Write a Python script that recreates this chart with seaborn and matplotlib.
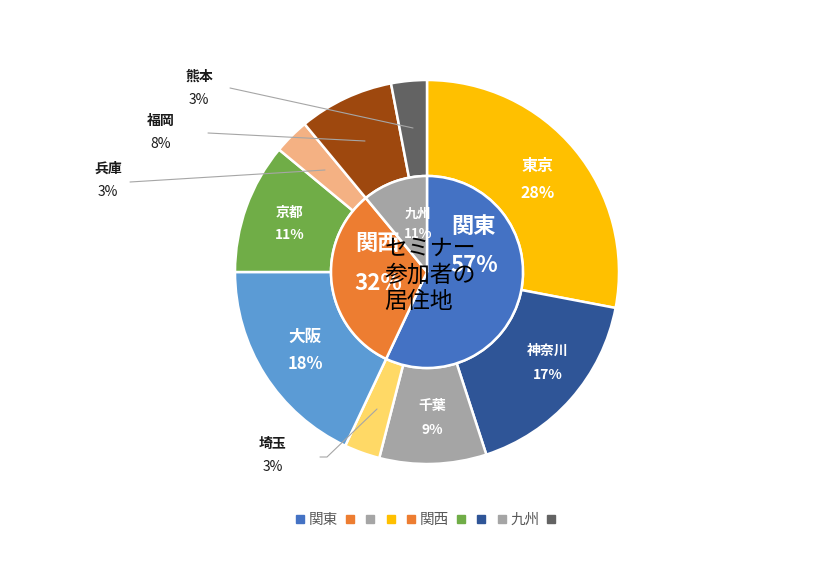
import matplotlib
matplotlib.use("Agg")
import matplotlib.pyplot as plt
from matplotlib.lines import Line2D
import seaborn as sns

# ---------------- data ----------------
inner_labels = ["関東", "関西", "九州"]
inner_values = [57, 32, 11]
inner_colors = ["#4472C4", "#ED7D31", "#A5A5A5"]

outer_labels = ["東京", "神奈川", "千葉", "埼玉", "大阪", "京都", "兵庫", "福岡", "熊本"]
outer_values = [28, 17, 9, 3, 18, 11, 3, 8, 3]
outer_colors = ["#FFC000", "#2F5597", "#A5A5A5", "#FFD966", "#5B9BD5",
                "#70AD47", "#F4B183", "#9E480E", "#636363"]

center_title = "セミナー\n参加者の\n居住地"

legend_labels = ["関東", "", "", "", "関西", "", "", "九州", ""]
legend_colors = ["#4472C4", "#ED7D31", "#A5A5A5", "#FFC000", "#ED7D31",
                 "#70AD47", "#2F5597", "#A5A5A5", "#636363"]

# ---------------- style ----------------
sns.set_theme(style="white")
plt.rcParams["font.family"] = ["Noto Sans CJK JP", "DejaVu Sans"]

W, H = 824, 586
fig = plt.figure(figsize=(W / 100, H / 100), dpi=100)
ax = fig.add_axes([0, 0, 1, 1])

cx, cy = 427, H - 272
R_out, R_in = 192, 96

ax.pie(outer_values, radius=R_out, center=(cx, cy), startangle=90,
       counterclock=False, colors=outer_colors,
       wedgeprops=dict(width=R_out - R_in, edgecolor="white", linewidth=1.8))
ax.pie(inner_values, radius=R_in, center=(cx, cy), startangle=90,
       counterclock=False, colors=inner_colors,
       wedgeprops=dict(edgecolor="white", linewidth=1.8))

ax.set_xlim(0, W)
ax.set_ylim(0, H)
ax.set_aspect("equal")
ax.axis("off")


def P(x, y):
    return x, H - y


def fmt(v):
    return f"{v}%"


# inside labels (name, pct) : (x, y_name, y_pct, size)
inside = {
    "東京": (538, 166, 193, 11.5),
    "神奈川": (548, 351, 375, 10),
    "千葉": (432, 406, 430, 10),
    "大阪": (305, 337, 364, 12),
    "京都": (290, 213, 235, 10),
}
for lab, v in zip(outer_labels, outer_values):
    if lab in inside:
        x, y1, y2, s = inside[lab]
        ax.text(*P(x, y1), lab, color="white", fontsize=s, fontweight="bold",
                ha="center", va="center")
        ax.text(*P(x, y2), fmt(v), color="white", fontsize=s, fontweight="bold",
                ha="center", va="center")

inner_pos = {
    "関東": (474, 226, 266, 16),
    "関西": (378, 243, 284, 16),
    "九州": (418, 214, 234, 9.5),
}
for lab, v in zip(inner_labels, inner_values):
    x, y1, y2, s = inner_pos[lab]
    ax.text(*P(x, y1), lab, color="white", fontsize=s, fontweight="bold",
            ha="center", va="center")
    ax.text(*P(x, y2), fmt(v), color="white", fontsize=s, fontweight="bold",
            ha="center", va="center")

# outside labels with leader lines
outside = {
    "熊本": ((199, 77, 100), [(230, 88), (413, 128)]),
    "福岡": ((161, 121, 144), [(208, 133), (365, 141)]),
    "兵庫": ((108, 169, 192), [(130, 182), (325, 170)]),
    "埼玉": ((273, 444, 467), [(320, 457), (327, 457), (377, 409)]),
}
for lab, v in zip(outer_labels, outer_values):
    if lab in outside:
        (x, y1, y2), pts = outside[lab]
        ax.text(*P(x, y1), lab, color="#1a1a1a", fontsize=10, fontweight="bold",
                ha="center", va="center")
        ax.text(*P(x, y2), fmt(v), color="#1a1a1a", fontsize=10,
                ha="center", va="center")
        xs = [p[0] for p in pts]
        ys = [H - p[1] for p in pts]
        ax.plot(xs, ys, color="#A6A6A6", lw=0.8)

ax.text(*P(430, 275), center_title, color="black", fontsize=16.5,
        ha="center", va="center", multialignment="left", linespacing=1.2)

handles = [Line2D([], [], marker="s", ls="none", color=c, markersize=5.5)
           for c in legend_colors]
leg = fig.legend(handles, legend_labels, loc="center", ncol=9,
                 bbox_to_anchor=(428 / W, (H - 520) / H), frameon=False,
                 fontsize=10.5, handlelength=0.6, handletextpad=0.3,
                 columnspacing=0.5, labelcolor="#595959")

fig.savefig("out.png", dpi=100)
